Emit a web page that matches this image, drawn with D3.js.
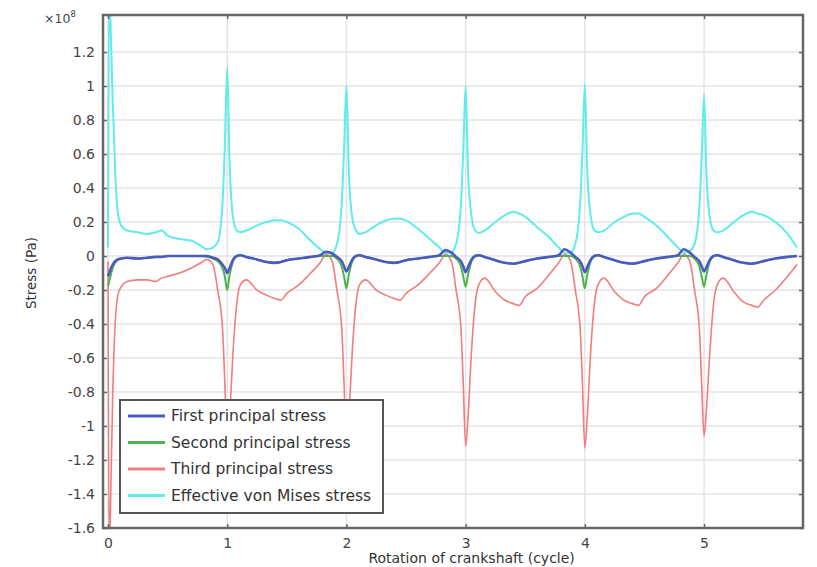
<!DOCTYPE html>
<html>
<head>
<meta charset="utf-8">
<script src="https://cdn.jsdelivr.net/npm/d3@7"></script>
<style>
  body { margin: 0; background: #fff; }
  svg { display: block; font-family: 'DejaVu Sans', sans-serif; }
  .grid line { stroke: #e4e4e4; stroke-width: 1.5; }
  .axis line { stroke: #666; stroke-width: 1.5; }
  .axis path { display: none; }
</style>
</head>
<body>
<svg width="817" height="567"></svg>
<script>

// rotation of crankshaft (cycle)
const time = [
  0, 0.01, 0.02, 0.04, 0.06, 0.08, 0.11, 0.16, 0.25, 0.33, 0.4, 0.45, 0.5, 0.6, 0.7, 0.78, 0.83, 0.88, 0.92, 0.96, 0.98,
  1, 1.02, 1.05, 1.08, 1.11, 1.16, 1.25, 1.33, 1.4, 1.45, 1.5, 1.6, 1.7, 1.78, 1.83, 1.88, 1.92, 1.96, 1.98,
  2, 2.02, 2.05, 2.08, 2.11, 2.16, 2.25, 2.33, 2.4, 2.45, 2.5, 2.6, 2.7, 2.78, 2.83, 2.88, 2.92, 2.96, 2.98,
  3, 3.02, 3.05, 3.08, 3.11, 3.16, 3.25, 3.33, 3.4, 3.45, 3.5, 3.6, 3.7, 3.78, 3.83, 3.88, 3.92, 3.96, 3.98,
  4, 4.02, 4.05, 4.08, 4.11, 4.16, 4.25, 4.33, 4.4, 4.45, 4.5, 4.6, 4.7, 4.78, 4.83, 4.88, 4.92, 4.96, 4.98,
  5, 5.02, 5.05, 5.08, 5.11, 5.16, 5.25, 5.33, 5.4, 5.45, 5.5, 5.6, 5.7, 5.78
];

// stresses in units of 1e8 Pa
const firstPrincipal = [
  -0.12, -0.1, -0.08, -0.05, -0.03, -0.02, -0.015, -0.01, -0.015, -0.01, -0.005, -0.005, 0, 0, 0, 0, 0, -0.01, -0.02, -0.05, -0.07,
  -0.1, -0.07, -0.02, 0, 0.005, -0.005, -0.02, -0.035, -0.04, -0.035, -0.025, -0.015, -0.005, 0.005, 0.025, 0.015, -0.005, -0.03, -0.06,
  -0.09, -0.065, -0.02, 0, 0.005, -0.005, -0.02, -0.035, -0.04, -0.035, -0.025, -0.015, -0.005, 0.005, 0.035, 0.02, -0.005, -0.03, -0.06,
  -0.095, -0.065, -0.02, 0, 0.005, -0.005, -0.025, -0.04, -0.045, -0.04, -0.03, -0.015, -0.005, 0.005, 0.04, 0.02, -0.005, -0.03, -0.06,
  -0.095, -0.065, -0.02, 0, 0.005, -0.005, -0.025, -0.04, -0.045, -0.04, -0.03, -0.015, -0.005, 0.005, 0.04, 0.02, -0.005, -0.03, -0.06,
  -0.09, -0.065, -0.02, 0, 0.005, -0.005, -0.025, -0.04, -0.045, -0.04, -0.03, -0.015, -0.005, 0
];

const secondPrincipal = [
  -0.18, -0.15, -0.12, -0.07, -0.04, -0.025, -0.015, -0.01, -0.015, -0.01, -0.005, -0.005, 0, 0, 0, 0, -0.005, -0.015, -0.03, -0.07, -0.12,
  -0.2, -0.11, -0.03, 0, 0.005, -0.005, -0.02, -0.035, -0.04, -0.035, -0.025, -0.015, -0.005, 0, 0, 0, -0.015, -0.06, -0.12,
  -0.19, -0.11, -0.03, 0, 0.005, -0.005, -0.02, -0.035, -0.04, -0.035, -0.025, -0.015, -0.005, 0, 0, 0, -0.015, -0.06, -0.12,
  -0.18, -0.11, -0.03, 0, 0.005, -0.005, -0.025, -0.04, -0.045, -0.04, -0.03, -0.015, -0.005, 0, 0, 0, -0.015, -0.06, -0.12,
  -0.19, -0.11, -0.03, 0, 0.005, -0.005, -0.025, -0.04, -0.045, -0.04, -0.03, -0.015, -0.005, 0, 0, 0, -0.015, -0.06, -0.12,
  -0.18, -0.11, -0.03, 0, 0.005, -0.005, -0.025, -0.04, -0.045, -0.04, -0.03, -0.015, -0.005, 0
];

const thirdPrincipal = [
  -0.03, -1.75, -1.5, -0.8, -0.4, -0.24, -0.18, -0.15, -0.14, -0.14, -0.15, -0.13, -0.12, -0.1, -0.07, -0.04, -0.02, -0.05, -0.2, -0.42, -0.75,
  -1.15, -0.95, -0.55, -0.28, -0.17, -0.14, -0.2, -0.23, -0.25, -0.26, -0.22, -0.17, -0.1, -0.04, 0.01, -0.03, -0.2, -0.42, -0.75,
  -1.15, -0.95, -0.55, -0.28, -0.17, -0.14, -0.2, -0.23, -0.25, -0.26, -0.22, -0.17, -0.1, -0.04, 0.01, -0.03, -0.2, -0.42, -0.75,
  -1.12, -0.95, -0.55, -0.28, -0.17, -0.13, -0.21, -0.26, -0.28, -0.29, -0.24, -0.19, -0.11, -0.04, 0.01, -0.03, -0.2, -0.42, -0.75,
  -1.13, -0.95, -0.55, -0.28, -0.17, -0.13, -0.21, -0.26, -0.28, -0.29, -0.24, -0.19, -0.11, -0.04, 0.01, -0.03, -0.2, -0.42, -0.75,
  -1.06, -0.9, -0.55, -0.28, -0.17, -0.13, -0.21, -0.27, -0.29, -0.3, -0.26, -0.2, -0.12, -0.05
];

const vonMises = [
  0.05, 1.6, 1.4, 0.9, 0.5, 0.27, 0.18, 0.15, 0.14, 0.13, 0.14, 0.15, 0.12, 0.1, 0.09, 0.06, 0.04, 0.05, 0.08, 0.3, 0.65,
  1.11, 0.55, 0.22, 0.15, 0.14, 0.15, 0.18, 0.2, 0.21, 0.21, 0.2, 0.16, 0.09, 0.04, 0.02, 0.02, 0.07, 0.3, 0.62,
  1.0, 0.5, 0.22, 0.15, 0.13, 0.14, 0.18, 0.21, 0.22, 0.22, 0.21, 0.16, 0.1, 0.05, 0.02, 0.02, 0.07, 0.3, 0.62,
  1.0, 0.5, 0.23, 0.15, 0.135, 0.15, 0.2, 0.24, 0.26, 0.25, 0.23, 0.17, 0.11, 0.05, 0.02, 0.02, 0.07, 0.3, 0.62,
  1.01, 0.5, 0.23, 0.15, 0.14, 0.15, 0.2, 0.23, 0.25, 0.25, 0.23, 0.18, 0.11, 0.05, 0.02, 0.03, 0.07, 0.28, 0.58,
  0.95, 0.48, 0.22, 0.15, 0.14, 0.15, 0.2, 0.24, 0.26, 0.25, 0.24, 0.2, 0.13, 0.05
];

const seriesNames = ['First principal stress', 'Second principal stress', 'Third principal stress', 'Effective von Mises stress'];
const seriesColors = ['#4a5bc0', '#4cb44c', '#f27d7d', '#5fecec'];

const xTicks = [0, 1, 2, 3, 4, 5];
const yTicks = [-1.6, -1.4, -1.2, -1, -0.8, -0.6, -0.4, -0.2, 0, 0.2, 0.4, 0.6, 0.8, 1, 1.2];

const margin = { top: 15, right: 14, bottom: 39, left: 103 };
const width = 817 - margin.left - margin.right;
const height = 567 - margin.top - margin.bottom;

const svg = d3.select('svg');

const x = d3.scaleLinear().domain([-0.042, 5.83]).range([0, width]);
const y = d3.scaleLinear().domain([-1.6, 1.418]).range([height, 0]);

const g = svg.append('g')
  .attr('transform', 'translate(' + margin.left + ',' + margin.top + ')');

g.append('clipPath').attr('id', 'plot-clip')
  .append('rect').attr('width', width).attr('height', height);

// grid
g.append('g').attr('class', 'grid')
  .selectAll('line.h').data(yTicks).enter().append('line')
    .attr('x1', 0).attr('x2', width)
    .attr('y1', d => y(d)).attr('y2', d => y(d));
g.append('g').attr('class', 'grid')
  .selectAll('line.v').data(xTicks).enter().append('line')
    .attr('y1', 0).attr('y2', height)
    .attr('x1', d => x(d)).attr('x2', d => x(d));

// lines
const seriesValues = [firstPrincipal, secondPrincipal, thirdPrincipal, vonMises];
const drawOrder = [3, 2, 1, 0];
const widths = [2.6, 2, 1.6, 2];

const line = d3.line()
  .x(d => x(d[0]))
  .y(d => y(d[1]))
  .curve(d3.curveMonotoneX);

const lines = g.append('g').attr('clip-path', 'url(#plot-clip)');
drawOrder.forEach(function (i) {
  lines.append('path')
    .datum(time.map((t, k) => [t, seriesValues[i][k]]))
    .attr('fill', 'none')
    .attr('stroke', seriesColors[i])
    .attr('stroke-width', widths[i])
    .attr('stroke-linejoin', 'round')
    .attr('d', line);
});

// axes with inward ticks
const fmt = d => String(+d.toFixed(1));

const xAxis = g.append('g').attr('class', 'axis')
  .attr('transform', 'translate(0,' + height + ')')
  .call(d3.axisBottom(x).tickValues(xTicks).tickFormat(fmt).tickSize(-4).tickPadding(10));
g.append('g').attr('class', 'axis')
  .call(d3.axisTop(x).tickValues(xTicks).tickFormat('').tickSize(-4));
const yAxis = g.append('g').attr('class', 'axis')
  .call(d3.axisLeft(y).tickValues(yTicks).tickFormat(fmt).tickSize(-4).tickPadding(8));
g.append('g').attr('class', 'axis')
  .attr('transform', 'translate(' + width + ',0)')
  .call(d3.axisRight(y).tickValues(yTicks).tickFormat('').tickSize(-4));

[xAxis, yAxis].forEach(a => a.attr('font-family', null).attr('font-size', 14)
  .selectAll('text').attr('fill', '#444'));

// frame
g.append('rect')
  .attr('width', width).attr('height', height)
  .attr('fill', 'none').attr('stroke', '#666').attr('stroke-width', 2.5);

// exponent label
const expo = svg.append('text')
  .attr('x', 44).attr('y', 23)
  .attr('font-size', 12.5).attr('fill', '#444');
expo.append('tspan').text('×10');
expo.append('tspan').attr('dy', -6).attr('font-size', 8.5).text('8');

// axis titles
svg.append('text')
  .attr('x', margin.left + x(3.05)).attr('y', 563)
  .attr('text-anchor', 'middle').attr('font-size', 14).attr('fill', '#333')
  .text('Rotation of crankshaft (cycle)');

svg.append('text')
  .attr('transform', 'translate(36,' + (margin.top + y(-0.1)) + ') rotate(-90)')
  .attr('text-anchor', 'middle').attr('font-size', 13.5).attr('fill', '#333')
  .text('Stress (Pa)');

// legend
const legend = svg.append('g').attr('transform', 'translate(120,400)');
legend.append('rect')
  .attr('width', 263).attr('height', 113)
  .attr('fill', '#fff').attr('stroke', '#555').attr('stroke-width', 2);

const entry = legend.selectAll('.entry')
  .data(seriesNames)
  .enter().append('g')
    .attr('class', 'entry')
    .attr('transform', (d, i) => 'translate(0,' + (16 + i * 26.5) + ')');

entry.append('line')
  .attr('x1', 8).attr('x2', 45)
  .attr('stroke', (d, i) => seriesColors[i])
  .attr('stroke-width', 3);

entry.append('text')
  .attr('x', 51).attr('dy', '0.35em')
  .attr('font-size', 15.5).attr('fill', '#333')
  .text(d => d);

</script>
</body>
</html>
